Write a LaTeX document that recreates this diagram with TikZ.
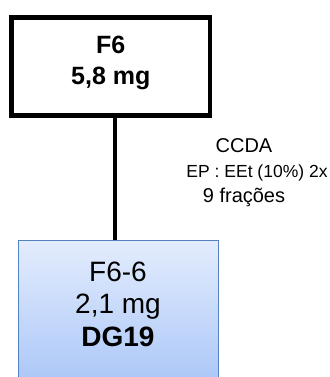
\documentclass[tikz,border=0pt]{standalone}
\usepackage{fontspec}
\setmainfont{Liberation Sans}
\usetikzlibrary{shadows}

\definecolor{boxedge}{RGB}{84,130,196}
\definecolor{boxtop}{RGB}{227,236,253}
\definecolor{boxbottom}{RGB}{168,197,247}

\begin{document}
\begin{tikzpicture}[x=1pt, y=1pt,
    fracbox/.style={draw=black, line width=4.5pt, minimum width=198.5pt,
        minimum height=98pt, inner sep=0pt},
    subbox/.style={draw=boxedge, line width=1pt, top color=boxtop,
        bottom color=boxbottom, minimum width=200pt, minimum height=150pt,
        inner sep=0pt, drop shadow={opacity=0.2, shadow xshift=1pt, shadow yshift=-1pt}},
    boxtext/.style={align=center, inner sep=0pt},
    link/.style={line width=3.5pt, black}]

    \useasboundingbox (0,0) rectangle (329,377);
    \clip (0,0) rectangle (329,377);

    % fraction and subfraction
    \node[fracbox] (f6) at (110.75,310.5) {};
    \node[boxtext, font=\bfseries\fontsize{25}{31}\selectfont] (f6text) at (110.75,313.85) {F6\\5,8 mg};

    \node[subbox] (f66) at (118.3,61) {};
    \node[boxtext, font=\fontsize{28}{32.5}\selectfont] (f66text) at (118,72.8) {F6-6\\2,1 mg\\\textbf{DG19}};

    \draw[link] ([xshift=4.25pt]f6.south) -- ([xshift=4.25pt]f6.south |- f66.north);

    % separation step
    \node[boxtext, font=\fontsize{20}{25}\selectfont] (step1) at (244,204.7)
        {CCDA\\\hspace*{26pt}{\fontsize{17.5}{25}\selectfont EP : EEt (10\%) 2x}\\9 frações};

\end{tikzpicture}
\end{document}
